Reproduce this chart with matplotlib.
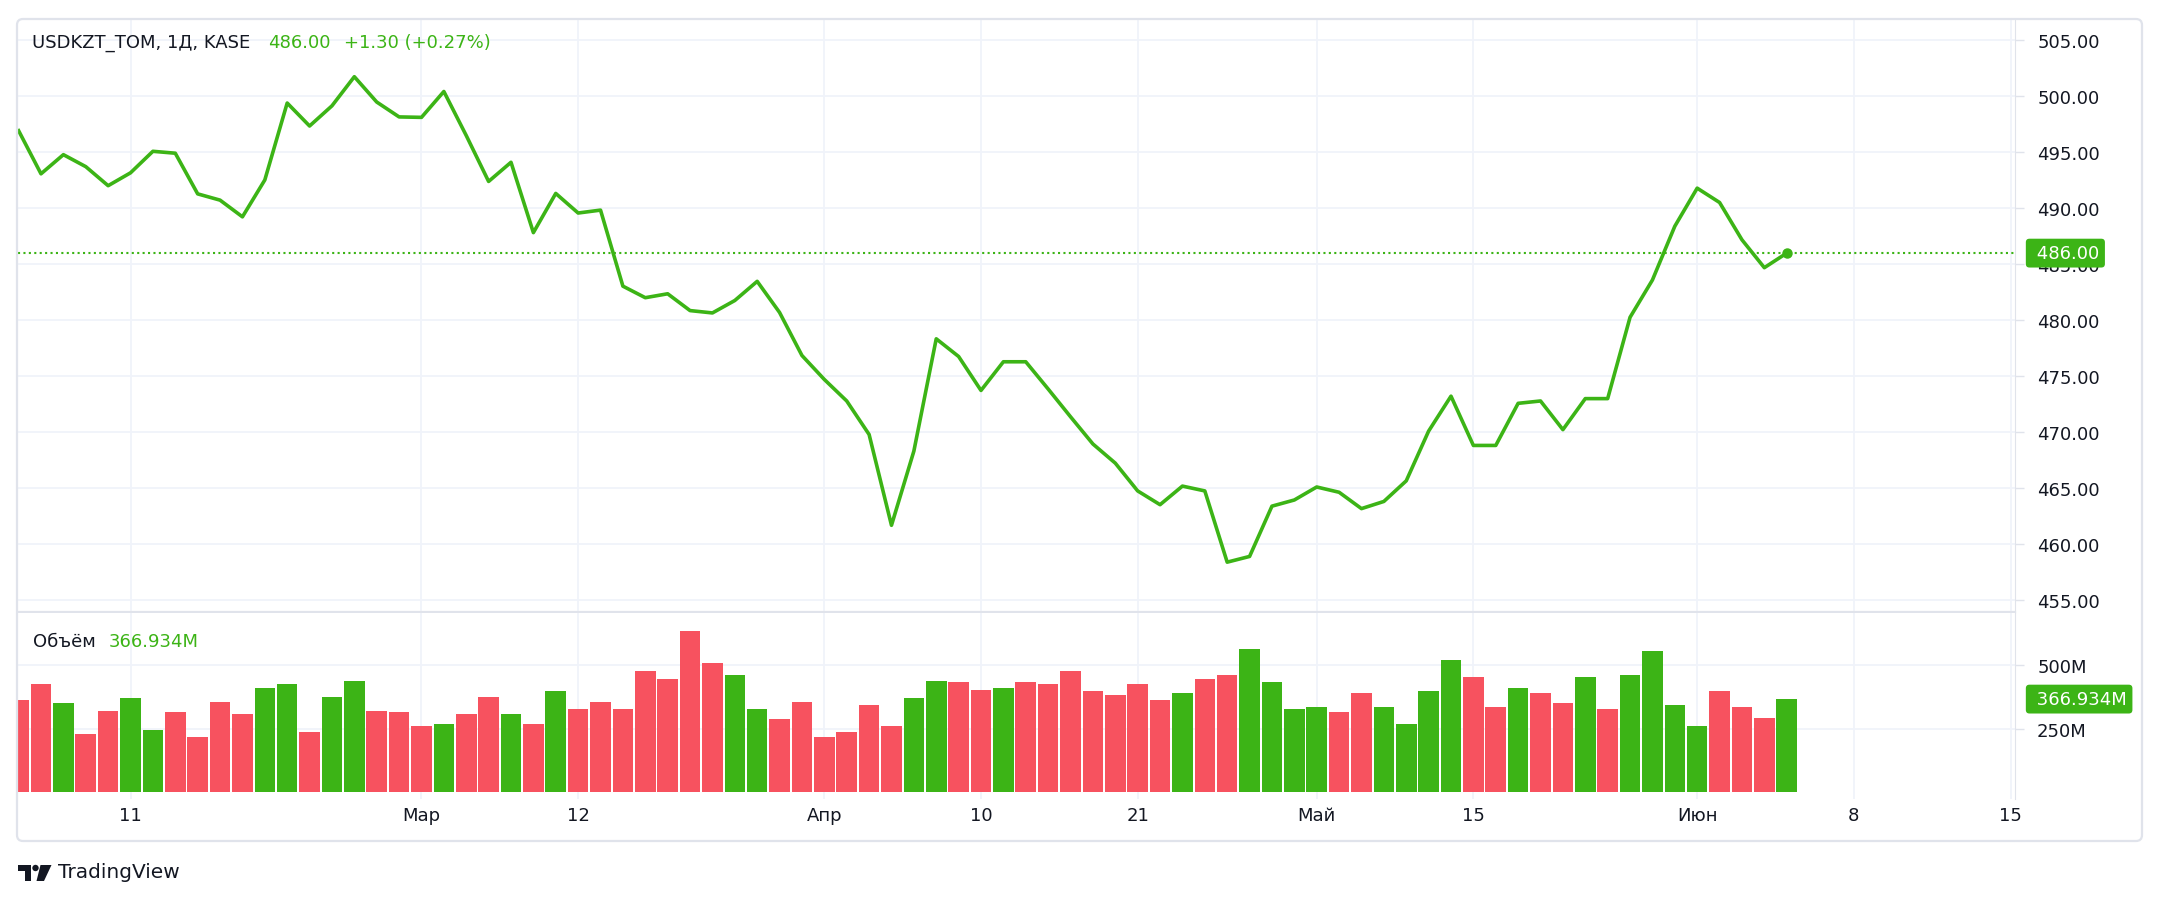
import matplotlib
matplotlib.use('Agg')
import matplotlib.pyplot as plt
from matplotlib.patches import FancyBboxPatch, Rectangle, Circle, Polygon
from matplotlib.transforms import IdentityTransform
import numpy as np

# daily closes, USDKZT_TOM (KASE)
close = [496.93, 493.08, 494.79, 493.72, 492.02, 493.17, 495.09, 494.92, 491.29, 490.73,
         489.24, 492.53, 499.40, 497.35, 499.15, 501.75, 499.49, 498.16, 498.12, 500.43,
         496.50, 492.40, 494.11, 487.83, 491.33, 489.58, 489.84, 483.05, 482.02, 482.37,
         480.87, 480.66, 481.77, 483.48, 480.70, 476.86, 474.72, 472.80, 469.81, 461.70,
         468.32, 478.35, 476.77, 473.74, 476.30, 476.30, 473.87, 471.39, 468.96, 467.25,
         464.77, 463.54, 465.20, 464.77, 458.41, 458.92, 463.41, 463.96, 465.12, 464.65,
         463.19, 463.83, 465.67, 470.11, 473.23, 468.83, 468.83, 472.59, 472.80, 470.24,
         473.01, 473.01, 480.27, 483.60, 488.40, 491.80, 490.52, 487.19, 484.70, 486.00]

# volume in millions
volume = [362.8, 424.9, 349.7, 231.2, 321.5, 370.4, 244.4, 315.8, 218.1, 357.2,
          308.3, 411.7, 424.9, 238.8, 376.0, 439.9, 321.5, 315.8, 261.3, 267.0,
          308.3, 376.0, 308.3, 267.0, 398.6, 329.0, 357.2, 329.0, 475.6, 447.4,
          633.6, 507.6, 460.6, 329.0, 287.6, 357.2, 218.1, 238.8, 342.2, 261.3,
          370.4, 439.9, 432.4, 404.2, 411.7, 432.4, 424.9, 475.6, 398.6, 383.5,
          424.9, 364.7, 391.0, 447.4, 460.6, 564.0, 432.4, 329.0, 334.6, 315.8,
          391.0, 334.6, 267.0, 398.6, 522.6, 453.1, 334.6, 411.7, 391.0, 349.7,
          453.1, 329.0, 460.6, 556.5, 342.2, 261.3, 398.6, 334.6, 293.3, 366.934]

# 1 = up day (green volume bar), 0 = down day (red)
vol_up = [0, 0, 1, 0, 0, 1, 1, 0, 0, 0,
          0, 1, 1, 0, 1, 1, 0, 0, 0, 1,
          0, 0, 1, 0, 1, 0, 0, 0, 0, 0,
          0, 0, 1, 1, 0, 0, 0, 0, 0, 0,
          1, 1, 0, 0, 1, 0, 0, 0, 0, 0,
          0, 0, 1, 0, 0, 1, 1, 1, 1, 0,
          0, 1, 1, 1, 1, 0, 0, 1, 0, 0,
          1, 0, 1, 1, 1, 1, 0, 0, 0, 1]

# time axis labels and the bar they sit on
date_pos = [5, 18, 25, 36, 43, 50, 58, 65, 75, 82, 89]
date_labels = ['11', 'Мар', '12', 'Апр', '10', '21', 'Май', '15', 'Июн', '8', '15']

price_ticks = np.arange(455, 506, 5)
vol_ticks = [250, 500]

green = '#3cb416'
red = '#f7525f'
text_col = '#131722'
grid_col = '#f0f3fa'
border_col = '#e0e3eb'

W, H = 2160, 904
fig = plt.figure(figsize=(W / 100, H / 100), dpi=100)
fig.patch.set_facecolor('white')
plt.rcParams['font.family'] = ['DejaVu Sans']

idx = np.arange(len(close))
x_left, x_right = 17.5, 2015
top = 20

# price pane
ax = fig.add_axes([x_left / W, 1 - 613 / H, (x_right - x_left) / W, (613 - top) / H])
ax.plot(idx, close, color=green, lw=2.6, zorder=3)
ax.plot(idx[-1], close[-1], 'o', ms=6.5, color=green, zorder=4)
ax.axhline(close[-1], color=green, lw=1.5, ls=(0, (1, 1.6)), zorder=2)
ax.set_xlim(-0.05, 89.2)
ax.set_ylim(453.96, 500 + (97.3 - top) / 11.2)
ax.set_yticks(price_ticks)
ax.set_yticklabels(['{:.2f}'.format(v) for v in price_ticks])
ax.yaxis.tick_right()
ax.set_xticks(date_pos)
ax.tick_params(axis='x', length=0, labelbottom=False)
ax.tick_params(axis='y', length=6.5, width=1, color=border_col, pad=9.4,
               labelsize=13, labelcolor=text_col)
ax.grid(True, color=grid_col, lw=1.3)
ax.set_axisbelow(True)
for s in ['top', 'left']:
    ax.spines[s].set_visible(False)
ax.spines['right'].set_color(border_col)
ax.spines['bottom'].set_color(border_col)
ax.spines['bottom'].set_linewidth(1.6)

# last price label on the scale (covers the 485.00 tick as in TradingView)
ax.annotate(' {:.2f}'.format(close[-1]), xy=(1, close[-1]), xycoords=('axes fraction', 'data'),
            xytext=(11.7, 0), textcoords='offset points', ha='left', va='center',
            fontsize=13, color='white', zorder=10, annotation_clip=False,
            bbox=dict(boxstyle='round,pad=0.3,rounding_size=0.2', fc=green, ec='none'))

# volume pane
ax2 = fig.add_axes([x_left / W, 1 - 800 / H, (x_right - x_left) / W, (800 - 614) / H])
bar_cols = [green if u else red for u in vol_up]
ax2.bar(idx, volume, width=0.92, color=bar_cols, zorder=3)
ax2.set_xlim(-0.05, 89.2)
ax2.set_ylim(-26.4, 705.9)
ax2.set_yticks(vol_ticks)
ax2.set_yticklabels(['{}M'.format(v) for v in vol_ticks])
ax2.yaxis.tick_right()
ax2.set_xticks(date_pos)
ax2.set_xticklabels(date_labels)
ax2.tick_params(axis='x', length=0, pad=5, labelsize=13, labelcolor=text_col)
ax2.tick_params(axis='y', length=6.5, width=1, color=border_col, pad=9.4,
                labelsize=13, labelcolor=text_col)
ax2.grid(True, color=grid_col, lw=1.3)
ax2.set_axisbelow(True)
for s in ['top', 'left', 'bottom']:
    ax2.spines[s].set_visible(False)
ax2.spines['right'].set_color(border_col)

ax2.annotate(' {:.3f}M'.format(volume[-1]), xy=(1, volume[-1]), xycoords=('axes fraction', 'data'),
             xytext=(11.7, 0), textcoords='offset points', ha='left', va='center',
             fontsize=13, color='white', zorder=10, annotation_clip=False,
             bbox=dict(boxstyle='round,pad=0.3,rounding_size=0.2', fc=green, ec='none'))

# legends in the panes
chg = close[-1] - close[-2]
fig.text(32.5 / W, 1 - 43 / H, 'USDKZT_TOM, 1Д, KASE', fontsize=13, color=text_col, va='center')
fig.text(268 / W, 1 - 43 / H, '{:.2f}'.format(close[-1]), fontsize=13, color=green, va='center')
fig.text(344 / W, 1 - 43 / H, '{:+.2f} ({:+.2f}%)'.format(chg, chg / close[-2] * 100),
         fontsize=13, color=green, va='center')
fig.text(32.7 / W, 1 - 641.7 / H, 'Объём', fontsize=13, color=text_col, va='center')
fig.text(109 / W, 1 - 641.7 / H, '{:.3f}M'.format(volume[-1]), fontsize=13, color=green, va='center')

# outer frame
frame = FancyBboxPatch((17, H - 842), 2142 - 17, 842 - top, boxstyle='round,pad=0,rounding_size=6',
                       fc='none', ec=border_col, lw=1.6, transform=IdentityTransform())
fig.add_artist(frame)

# TradingView logo
logo = [Rectangle((18, H - 872), 13, 6),
        Rectangle((25, H - 882), 6, 16),
        Circle((35.5, H - 869), 3.2),
        Polygon([(40.5, H - 866), (51.5, H - 866), (44, H - 882), (36.5, H - 882)])]
for p in logo:
    p.set_transform(IdentityTransform())
    p.set_facecolor(text_col)
    p.set_edgecolor('none')
    fig.add_artist(p)
fig.text(58 / W, 1 - 873 / H, 'TradingView', fontsize=14.5, color=text_col, va='center')

plt.savefig('out.png', dpi=100)
plt.close()
